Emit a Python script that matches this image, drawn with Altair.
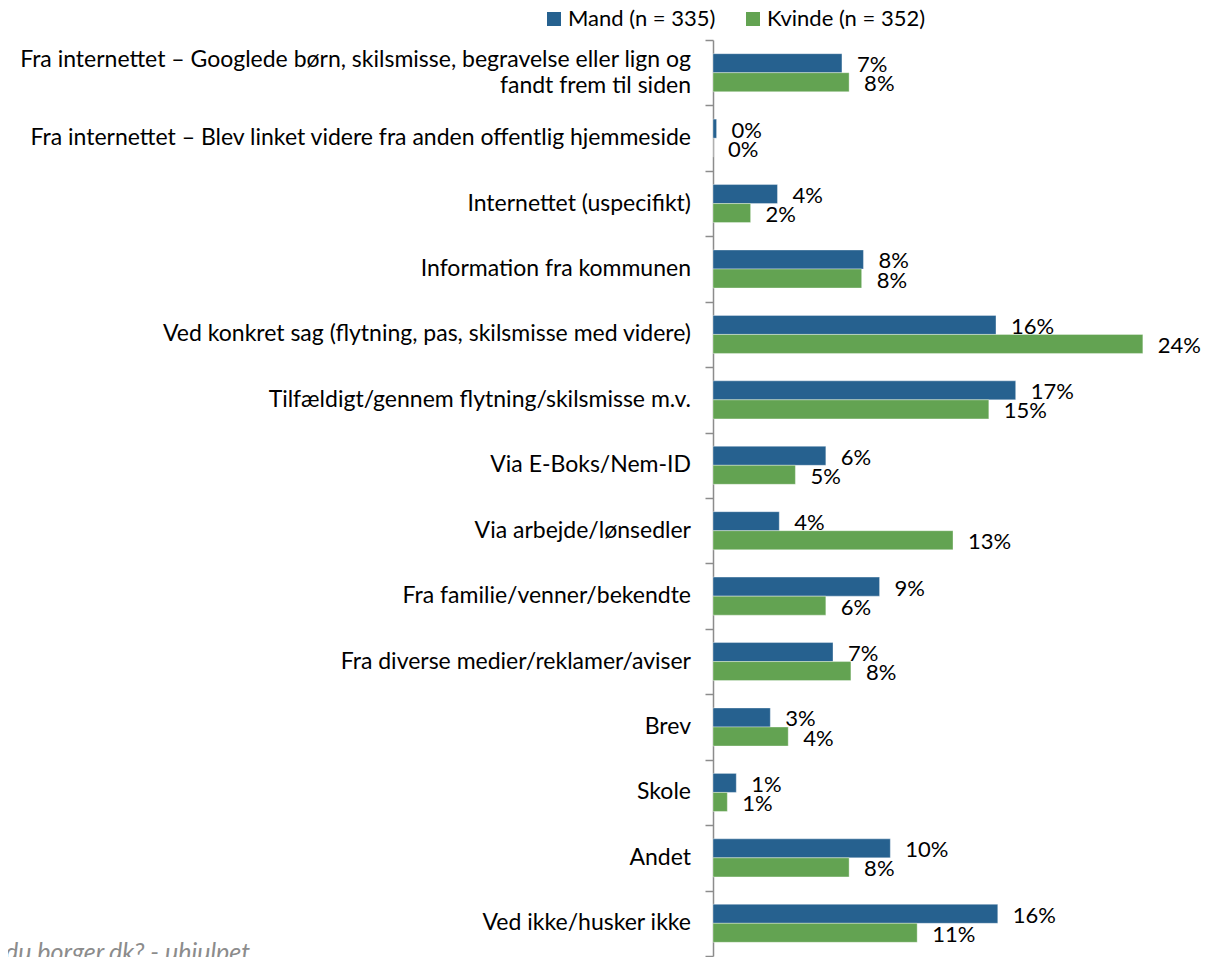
import altair as alt
import pandas as pd

categories = [
    "Fra internettet – Googlede børn, skilsmisse, begravelse eller lign og|fandt frem til siden",
    "Fra internettet – Blev linket videre fra anden offentlig hjemmeside",
    "Internettet (uspecifikt)",
    "Information fra kommunen",
    "Ved konkret sag (flytning, pas, skilsmisse med videre)",
    "Tilfældigt/gennem flytning/skilsmisse m.v.",
    "Via E-Boks/Nem-ID",
    "Via arbejde/lønsedler",
    "Fra familie/venner/bekendte",
    "Fra diverse medier/reklamer/aviser",
    "Brev",
    "Skole",
    "Andet",
    "Ved ikke/husker ikke",
]
mand = [7.2, 0.2, 3.6, 8.4, 15.8, 16.9, 6.3, 3.7, 9.3, 6.7, 3.2, 1.3, 9.9, 15.9]
kvinde = [7.6, 0.0, 2.1, 8.3, 24.0, 15.4, 4.6, 13.4, 6.3, 7.7, 4.2, 0.8, 7.6, 11.4]
series = ["Mand (n = 335)", "Kvinde (n = 352)"]
colors = ["#26618F", "#63A352"]

rows = []
for c, m, k in zip(categories, mand, kvinde):
    rows.append({"cat": c, "series": series[0], "value": m})
    rows.append({"cat": c, "series": series[1], "value": k})
df = pd.DataFrame(rows)
df["label"] = df["value"].round(0).astype(int).astype(str) + "%"

# category label lines (multi-line labels split on "|")
lab_rows = []
for c in categories:
    parts = c.split("|")
    if len(parts) == 1:
        lab_rows.append({"cat": c, "line": "mid", "text": parts[0]})
    else:
        lab_rows.append({"cat": c, "line": "l0", "text": parts[0]})
        lab_rows.append({"cat": c, "line": "l1", "text": parts[1]})
lab_df = pd.DataFrame(lab_rows)

FONT = "Lato"

y = alt.Y(
    "cat:N",
    sort=categories,
    scale=alt.Scale(paddingInner=0, paddingOuter=0),
    axis=alt.Axis(
        title=None,
        labels=False,
        tickBand="extent",
        tickSize=8,
        tickColor="#8C8C8C",
        tickWidth=1.5,
        domainColor="#8C8C8C",
        domainWidth=1.5,
        grid=False,
    ),
)
yoff = alt.YOffset("series:N", sort=series, scale=alt.Scale(paddingInner=0, paddingOuter=0.72))
x = alt.X("value:Q", scale=alt.Scale(domain=[0, 26.8], nice=False, zero=True), axis=None)

bars = alt.Chart(df).mark_bar(stroke="#ffffff", strokeWidth=0.6, strokeOpacity=0.6).encode(
    y=y,
    yOffset=yoff,
    x=x,
    color=alt.Color(
        "series:N",
        sort=series,
        scale=alt.Scale(domain=series, range=colors),
        legend=alt.Legend(
            title=None,
            orient="none",
            direction="horizontal",
            legendX=-170,
            legendY=-32,
            symbolType="square",
            symbolSize=196,
            symbolStrokeWidth=0,
            symbolOpacity=1,
            labelFont=FONT,
            labelFontSize=22,
            labelColor="#000000",
            labelOffset=3,
            columnPadding=26,
            labelLimit=0,
        ),
    ),
)

labels = alt.Chart(df).mark_text(
    align="left", baseline="middle", dx=15, dy=2, font=FONT, fontSize=22, color="#000000"
).encode(
    y=y,
    yOffset=yoff,
    x=x,
    text="label:N",
)


def cat_layer(line, dy):
    return (
        alt.Chart(lab_df)
        .transform_filter(alt.datum.line == line)
        .mark_text(align="right", baseline="middle", dy=dy, font=FONT, fontSize=23, color="#000000")
        .encode(
            y=alt.Y("cat:N", sort=categories),
            x=alt.value(-22),
            text="text:N",
        )
    )


chart = (
    alt.layer(bars, labels, cat_layer("mid", 0), cat_layer("l0", -13), cat_layer("l1", 13))
    .properties(
        width=480,
        height=916,
        padding={"left": 705, "top": 32, "right": 10, "bottom": 2},
        autosize=alt.AutoSizeParams(type="none"),
        title=alt.TitleParams(
            text="du borger.dk? - uhjulpet",
            orient="bottom",
            anchor="start",
            frame="group",
            dx=-708,
            dy=4,
            offset=0,
            baseline="alphabetic",
            font=FONT,
            fontSize=25,
            fontStyle="italic",
            fontWeight="normal",
            color="#8C8C8C",
        ),
    )
    .configure_view(stroke=None)
)

chart.save("out.html", embed_options={"renderer": "svg", "actions": False})
